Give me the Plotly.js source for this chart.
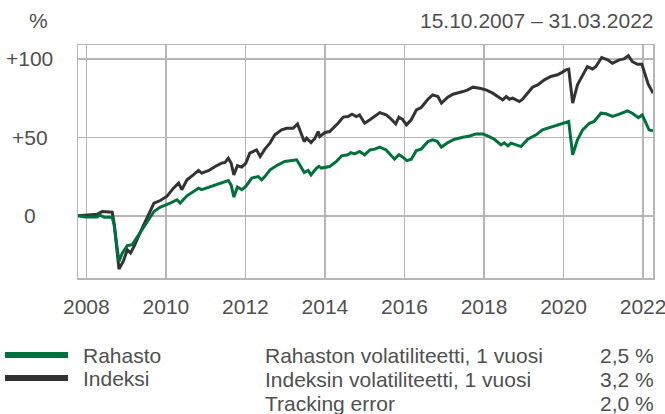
<!DOCTYPE html>
<html>
<head>
<meta charset="utf-8">
<script src="https://cdn.plot.ly/plotly-3.0.1.min.js"></script>
<style>
  html, body { margin: 0; padding: 0; background: #fff; }
  #chart { width: 665px; height: 414px; }
</style>
</head>
<body>
<div id="chart"></div>
<script>
// ---- Data ----
const indexYears = [2007.79, 2008.10, 2008.28, 2008.40, 2008.53, 2008.65, 2008.70, 2008.82, 2008.93, 2009.03, 2009.11, 2009.20, 2009.41, 2009.53, 2009.70, 2009.86, 2010.03, 2010.19, 2010.32, 2010.40, 2010.53, 2010.69, 2010.82, 2010.90, 2011.07, 2011.24, 2011.40, 2011.49, 2011.57, 2011.64, 2011.71, 2011.80, 2011.91, 2012.01, 2012.11, 2012.28, 2012.37, 2012.49, 2012.62, 2012.74, 2012.91, 2013.04, 2013.20, 2013.31, 2013.39, 2013.48, 2013.54, 2013.65, 2013.75, 2013.83, 2013.87, 2014.00, 2014.12, 2014.25, 2014.33, 2014.46, 2014.58, 2014.68, 2014.79, 2014.87, 2015.00, 2015.13, 2015.25, 2015.38, 2015.54, 2015.63, 2015.78, 2015.86, 2015.95, 2016.05, 2016.17, 2016.30, 2016.42, 2016.59, 2016.71, 2016.84, 2016.93, 2017.09, 2017.22, 2017.34, 2017.47, 2017.59, 2017.72, 2017.89, 2018.05, 2018.22, 2018.39, 2018.47, 2018.56, 2018.64, 2018.72, 2018.89, 2018.97, 2019.10, 2019.22, 2019.35, 2019.52, 2019.68, 2019.85, 2019.95, 2020.06, 2020.13, 2020.23, 2020.35, 2020.48, 2020.60, 2020.73, 2020.81, 2020.96, 2021.11, 2021.23, 2021.40, 2021.52, 2021.63, 2021.73, 2021.86, 2021.97, 2022.05, 2022.13, 2022.25];
const indexValues = [0, 0.5, 1.0, 2.7, 2.5, 2.3, -5, -34, -29, -21.7, -23.8, -19.5, -7.6, -1, 8, 9.7, 12.5, 17.6, 20.8, 16.6, 22.9, 26.1, 28.9, 27.2, 28.7, 31.4, 33.6, 34, 36.7, 33.6, 26.1, 31.9, 31, 33.6, 39.9, 42, 37.8, 42.5, 46.5, 51.6, 54.8, 55.8, 55.8, 58.6, 52.7, 47.3, 49.5, 46.7, 49.5, 53.7, 50.5, 53.1, 53.7, 56.9, 59, 62.9, 63.3, 64.8, 63.3, 64.3, 59, 61.2, 63.7, 65.8, 64.3, 62.5, 58.6, 62.9, 61.5, 58, 61.2, 67.5, 69, 74.3, 77.1, 76, 71.8, 75.6, 77.5, 78.2, 79.2, 80.3, 82, 81.3, 80.3, 78.2, 75, 73.9, 76, 74.3, 75, 72.8, 74.3, 78.5, 82, 83.5, 86.7, 88.8, 89.9, 91.3, 93, 93.5, 71.8, 83.5, 89.9, 95.1, 93.6, 95, 100.9, 99.4, 97.2, 99.4, 100, 102.1, 98.3, 96.6, 96.6, 90.9, 83.9, 78.2];

const fundYears = [2007.79, 2007.97, 2008.28, 2008.33, 2008.45, 2008.65, 2008.70, 2008.82, 2008.90, 2009.03, 2009.15, 2009.32, 2009.45, 2009.70, 2009.86, 2010.03, 2010.11, 2010.28, 2010.36, 2010.53, 2010.82, 2010.90, 2011.19, 2011.40, 2011.57, 2011.64, 2011.71, 2011.80, 2011.91, 2012.01, 2012.16, 2012.32, 2012.41, 2012.49, 2012.62, 2012.82, 2012.99, 2013.29, 2013.37, 2013.48, 2013.58, 2013.65, 2013.79, 2013.85, 2013.91, 2014.12, 2014.29, 2014.42, 2014.58, 2014.65, 2014.75, 2014.87, 2015.00, 2015.13, 2015.25, 2015.38, 2015.54, 2015.75, 2015.86, 2015.95, 2016.06, 2016.17, 2016.30, 2016.42, 2016.59, 2016.71, 2016.82, 2016.93, 2017.09, 2017.26, 2017.47, 2017.64, 2017.80, 2017.97, 2018.09, 2018.26, 2018.43, 2018.51, 2018.60, 2018.68, 2018.81, 2018.93, 2019.10, 2019.31, 2019.47, 2019.68, 2019.89, 2020.02, 2020.13, 2020.23, 2020.35, 2020.48, 2020.65, 2020.77, 2020.94, 2021.07, 2021.23, 2021.40, 2021.61, 2021.73, 2021.88, 2021.98, 2022.08, 2022.15, 2022.25];
const fundValues = [0, -0.8, -0.8, 0.6, -1, -1, -6, -29.1, -24, -19, -18.5, -12, -7.2, 2.7, 5.5, 7, 8.1, 10.2, 8.1, 12.7, 17.6, 16.6, 19.1, 20.8, 22.5, 19.7, 11.9, 18.3, 16.6, 18.7, 24, 25, 22.9, 25, 29.3, 32.5, 34.6, 35.7, 32.5, 27.6, 28.9, 26.1, 30.4, 31.5, 30.4, 31.4, 34.6, 38.2, 38.9, 40.3, 39.5, 41, 38.9, 42, 42.5, 43.8, 42, 36.1, 38.9, 37.5, 35.2, 36.1, 41.6, 42.5, 47.3, 48.4, 47.5, 43.8, 46.7, 48.8, 50.1, 50.9, 52.2, 52.2, 51, 48.8, 45.2, 46.5, 44.6, 46.3, 45.2, 44.1, 48.8, 51.6, 54.8, 56.5, 57.8, 59, 60.1, 38.9, 48.4, 54.8, 59, 60.1, 65.4, 65, 63.3, 64.8, 66.9, 65.4, 62.6, 64.3, 59, 54.8, 54.1];

const xTickVals = [2008, 2010, 2012, 2014, 2016, 2018, 2020, 2022];
const xTickText = ['2008', '2010', '2012', '2014', '2016', '2018', '2020', '2022'];
const yTickVals = [0, 50, 100];
const yTickText = ['0', '+50', '+100'];

const seriesNames = ['Rahasto', 'Indeksi'];
const statLabels = ['Rahaston volatiliteetti, 1 vuosi', 'Indeksin volatiliteetti, 1 vuosi', 'Tracking error'];
const statValues = ['2,5 %', '3,2 %', '2,0 %'];
const periodText = '15.10.2007 – 31.03.2022';
const unitText = '%';

// ---- Styling ----
const GREEN = '#00703c';
const DARK = '#333333';
const GRID = '#b6b6b6';
const TEXT = '#505050';
const FONT = '"Liberation Sans", Arial, sans-serif';
const FS = 21;

const W = 665, H = 414;
const M = { l: 78, r: 12, t: 45, b: 136 };
const pw = W - M.l - M.r, ph = H - M.t - M.b;
const px = x => (x - M.l) / pw;
const py = y => (H - M.b - y) / ph;

const traces = [
  { x: indexYears, y: indexValues, type: 'scatter', mode: 'lines', name: seriesNames[1],
    line: { color: DARK, width: 3 }, hoverinfo: 'skip' },
  { x: fundYears, y: fundValues, type: 'scatter', mode: 'lines', name: seriesNames[0],
    line: { color: GREEN, width: 3 }, hoverinfo: 'skip' }
];

const annotations = [];
const shapes = [];

// y tick labels, centred like the reference
yTickVals.forEach((v, i) => {
  annotations.push({ xref: 'paper', yref: 'y', x: px(30), y: v, text: yTickText[i],
    showarrow: false, xanchor: 'center', yanchor: 'middle',
    font: { family: FONT, size: FS, color: TEXT } });
});
annotations.push({ xref: 'paper', yref: 'paper', x: px(38), y: py(20), text: unitText,
  showarrow: false, xanchor: 'center', yanchor: 'middle', font: { family: FONT, size: FS, color: TEXT } });
annotations.push({ xref: 'paper', yref: 'paper', x: px(656), y: py(20), text: periodText,
  showarrow: false, xanchor: 'right', yanchor: 'middle', font: { family: FONT, size: FS, color: TEXT } });

// legend
const legendY = [355, 378];
const legendColors = [GREEN, DARK];
seriesNames.forEach((n, i) => {
  shapes.push({ type: 'line', xref: 'paper', yref: 'paper', x0: px(5), x1: px(68), y0: py(legendY[i]), y1: py(legendY[i]),
    line: { color: legendColors[i], width: 6 } });
  annotations.push({ xref: 'paper', yref: 'paper', x: px(81), y: py(legendY[i]), text: n,
    showarrow: false, xanchor: 'left', yanchor: 'middle', font: { family: FONT, size: FS, color: TEXT } });
});
const statY = [355, 379, 403];
statLabels.forEach((s, i) => {
  annotations.push({ xref: 'paper', yref: 'paper', x: px(263), y: py(statY[i]), text: s,
    showarrow: false, xanchor: 'left', yanchor: 'middle', font: { family: FONT, size: FS, color: TEXT } });
  annotations.push({ xref: 'paper', yref: 'paper', x: px(656), y: py(statY[i]), text: statValues[i],
    showarrow: false, xanchor: 'right', yanchor: 'middle', font: { family: FONT, size: FS, color: TEXT } });
});

const layout = {
  width: W, height: H,
  margin: M,
  paper_bgcolor: '#ffffff', plot_bgcolor: '#ffffff',
  showlegend: false,
  xaxis: {
    range: [2007.79, 2022.25], type: 'linear',
    tickvals: xTickVals, ticktext: xTickText,
    showgrid: true, gridcolor: GRID, gridwidth: 1.5,
    showline: true, mirror: true, linecolor: GRID, linewidth: 1.5,
    zeroline: false, ticks: 'outside', ticklen: 9, tickcolor: 'rgba(0,0,0,0)',
    ticklabeloverflow: 'allow',
    tickfont: { family: FONT, size: FS, color: TEXT }, fixedrange: true
  },
  yaxis: {
    range: [-39.7, 108.9],
    tickvals: yTickVals, showticklabels: false,
    showgrid: true, gridcolor: GRID, gridwidth: 1.5,
    showline: true, mirror: true, linecolor: GRID, linewidth: 1.5,
    zeroline: false, fixedrange: true
  },
  annotations: annotations,
  shapes: shapes
};

Plotly.newPlot('chart', traces, layout, { staticPlot: true, displayModeBar: false });
</script>
</body>
</html>
